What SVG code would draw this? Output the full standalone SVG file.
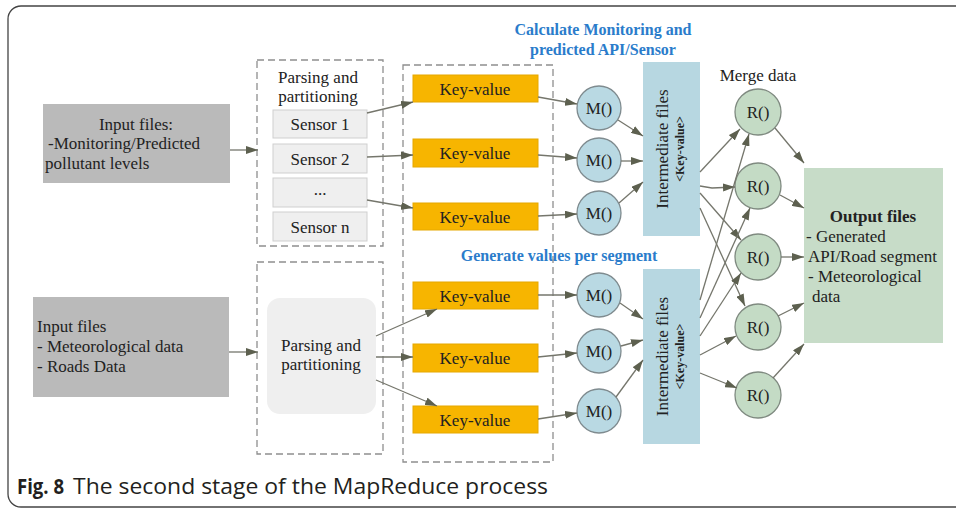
<svg xmlns="http://www.w3.org/2000/svg" width="956" height="508" viewBox="0 0 956 508">
  <style>
    .t { font-family: "Liberation Serif", "Times New Roman", serif; font-size: 17px; fill: #222; }
    .c { text-anchor: middle; }
    .b { font-weight: bold; }
    .blue { font-family: "Liberation Serif", serif; font-size: 16px; font-weight: bold; fill: #2a7ccb; text-anchor: middle; }
    .cap { font-family: "Open Sans", "Liberation Sans", sans-serif; font-size: 22px; fill: #231f20; }
    .dash { fill: none; stroke: #8e8e8e; stroke-width: 1.3; stroke-dasharray: 7 4; }
    .input { fill: #bababa; }
    .sensor { fill: #efefef; stroke: #cfcfcf; stroke-width: 1; }
    .kv { fill: #f7b500; stroke: #e6a800; stroke-width: 1; }
    .mc { fill: #b9d9e3; stroke: #7f8b8f; stroke-width: 1.3; }
    .inter { fill: #b7d7e1; }
    .rc { fill: #c4dbc5; stroke: #7f8a80; stroke-width: 1.3; }
    .out { fill: #c7dcc8; }
    .edge { fill: none; stroke: #75766c; stroke-width: 1.3; marker-end: url(#ah); }
  </style>
  <defs>
    <marker id="ah" markerUnits="userSpaceOnUse" markerWidth="12" markerHeight="8" refX="12" refY="4" orient="auto">
      <path d="M0,0 L12,4 L0,8 z" fill="#5d604f"/>
    </marker>
  </defs>

  <rect width="956" height="508" fill="#ffffff"/>
  <!-- outer frame, open on the right -->
  <path d="M956,6 H21 A13,13 0 0 0 8,19 V494 A13,13 0 0 0 21,507 H956" fill="none" stroke="#444" stroke-width="1.3"/>

  <!-- headings -->
  <text class="blue" x="603" y="35">Calculate Monitoring and</text>
  <text class="blue" x="603" y="55">predicted API/Sensor</text>
  <text class="blue" x="559" y="261">Generate values per segment</text>
  <text class="t c" x="758" y="81">Merge data</text>

  <!-- input 1 -->
  <g id="input1">
    <rect class="input" x="43" y="104" width="187" height="79"/>
    <text class="t c" x="136" y="130">Input files:</text>
    <text class="t" x="48" y="149">-Monitoring/Predicted</text>
    <text class="t" x="45" y="169">pollutant levels</text>
  </g>

  <!-- input 2 -->
  <g id="input2">
    <rect class="input" x="33" y="297" width="196" height="100"/>
    <text class="t" x="37" y="332">Input files</text>
    <text class="t" x="37" y="352">- Meteorological data</text>
    <text class="t" x="37" y="372">- Roads Data</text>
  </g>

  <!-- parsing 1 with sensors -->
  <g id="parse1">
    <rect class="dash" x="257" y="60" width="126" height="186"/>
    <text class="t c" x="318" y="83">Parsing and</text>
    <text class="t c" x="318" y="102">partitioning</text>
  </g>
  <g id="sensor1"><rect class="sensor" x="273" y="110" width="94" height="28"/><text class="t c" x="320" y="130">Sensor 1</text></g>
  <g id="sensor2"><rect class="sensor" x="273" y="144" width="94" height="29"/><text class="t c" x="320" y="164.5">Sensor 2</text></g>
  <g id="sensor3"><rect class="sensor" x="273" y="178" width="94" height="29"/><text class="t c" x="320" y="195">...</text></g>
  <g id="sensorn"><rect class="sensor" x="273" y="212" width="94" height="29"/><text class="t c" x="320" y="232.5">Sensor n</text></g>

  <!-- parsing 2 -->
  <g id="parse2">
    <rect class="dash" x="257" y="262" width="126" height="192"/>
    <rect x="267" y="298" width="109" height="116" rx="13" fill="#efefef"/>
    <text class="t c" x="321" y="351">Parsing and</text>
    <text class="t c" x="321" y="370">partitioning</text>
  </g>

  <!-- key-value group -->
  <rect id="kvgroup" class="dash" x="403" y="65" width="150" height="397"/>
  <g id="kv1"><rect class="kv" x="413" y="75" width="125" height="27"/><text class="t c" x="475" y="94.5">Key-value</text></g>
  <g id="kv2"><rect class="kv" x="413" y="139" width="125" height="28"/><text class="t c" x="475" y="159">Key-value</text></g>
  <g id="kv3"><rect class="kv" x="413" y="203" width="125" height="27"/><text class="t c" x="475" y="222.5">Key-value</text></g>
  <g id="kv4"><rect class="kv" x="413" y="282" width="125" height="27"/><text class="t c" x="475" y="301.5">Key-value</text></g>
  <g id="kv5"><rect class="kv" x="413" y="344" width="125" height="28"/><text class="t c" x="475" y="364">Key-value</text></g>
  <g id="kv6"><rect class="kv" x="413" y="406" width="125" height="27"/><text class="t c" x="475" y="425.5">Key-value</text></g>

  <!-- map nodes -->
  <g id="m1"><circle class="mc" cx="599" cy="108" r="22"/><text class="t c" x="599" y="114">M()</text></g>
  <g id="m2"><circle class="mc" cx="599" cy="160" r="22"/><text class="t c" x="599" y="166">M()</text></g>
  <g id="m3"><circle class="mc" cx="599" cy="213" r="22"/><text class="t c" x="599" y="219">M()</text></g>
  <g id="m4"><circle class="mc" cx="599" cy="295" r="22"/><text class="t c" x="599" y="301">M()</text></g>
  <g id="m5"><circle class="mc" cx="599" cy="351" r="22"/><text class="t c" x="599" y="357">M()</text></g>
  <g id="m6"><circle class="mc" cx="599" cy="411" r="22"/><text class="t c" x="599" y="417">M()</text></g>

  <!-- intermediate files -->
  <g id="inter1">
    <rect class="inter" x="643" y="62" width="57" height="174"/>
    <text class="t c" transform="translate(667.5,149) rotate(-90)">Intermediate files</text>
    <text class="t c b" style="font-size:12px" transform="translate(684,149) rotate(-90)">&lt;Key-value&gt;</text>
  </g>
  <g id="inter2">
    <rect class="inter" x="643" y="269" width="57" height="175"/>
    <text class="t c" transform="translate(667.5,356.5) rotate(-90)">Intermediate files</text>
    <text class="t c b" style="font-size:12px" transform="translate(684,356.5) rotate(-90)">&lt;Key-value&gt;</text>
  </g>

  <!-- reduce nodes -->
  <g id="r1"><circle class="rc" cx="758" cy="112" r="23"/><text class="t c" x="758" y="118">R()</text></g>
  <g id="r2"><circle class="rc" cx="758" cy="186" r="23"/><text class="t c" x="758" y="192">R()</text></g>
  <g id="r3"><circle class="rc" cx="758" cy="257" r="23"/><text class="t c" x="758" y="263">R()</text></g>
  <g id="r4"><circle class="rc" cx="758" cy="327" r="23"/><text class="t c" x="758" y="333">R()</text></g>
  <g id="r5"><circle class="rc" cx="758" cy="395" r="23"/><text class="t c" x="758" y="401">R()</text></g>

  <!-- output -->
  <g id="output">
    <rect class="out" x="804" y="168" width="139" height="175"/>
    <text class="t c b" x="873" y="222">Output files</text>
    <text class="t" x="806" y="242">- Generated</text>
    <text class="t" x="808" y="262">API/Road segment</text>
    <text class="t" x="808" y="282">- Meteorological</text>
    <text class="t" x="812" y="302">data</text>
  </g>

  <!-- connectors -->
  <g id="connectors">
    <path class="edge" d="M230,150 L258,150"/>
    <path class="edge" d="M229,352 L258,352"/>
    <path class="edge" d="M367,113 L413,102"/>
    <path class="edge" d="M367,157 L413,155"/>
    <path class="edge" d="M367,200 L413,208"/>
    <path class="edge" d="M376,336 L437,309"/>
    <path class="edge" d="M376,357 L413,357"/>
    <path class="edge" d="M376,380 L437,406"/>

    <path class="edge" d="M538,97 L577,104"/>
    <path class="edge" d="M538,155 L577,158"/>
    <path class="edge" d="M538,216 L577,214"/>
    <path class="edge" d="M538,295 L577,295"/>
    <path class="edge" d="M538,357 L577,353"/>
    <path class="edge" d="M538,419 L577,413"/>

    <path class="edge" d="M618,120 L643,136"/>
    <path class="edge" d="M621,161 L643,161"/>
    <path class="edge" d="M619,203 L643,182"/>
    <path class="edge" d="M620,303 L643,319"/>
    <path class="edge" d="M621,346 L643,340"/>
    <path class="edge" d="M616,397 L643,360"/>

    <!-- shuffle -->
    <path class="edge" d="M700,172 L740,129"/>
    <path class="edge" d="M700,186 L712,188 L735,187"/>
    <path class="edge" d="M700,193 L741,240"/>
    <path class="edge" d="M700,208 L745,306"/>
    <path class="edge" d="M700,300 L749,134"/>
    <path class="edge" d="M700,318 L750,208"/>
    <path class="edge" d="M700,336 L741,273"/>
    <path class="edge" d="M700,355 L736,336"/>
    <path class="edge" d="M700,373 L737,388"/>

    <path class="edge" d="M775,128 L804,163"/>
    <path class="edge" d="M780,195 L804,208"/>
    <path class="edge" d="M781,257 L804,257"/>
    <path class="edge" d="M778,316 L804,303"/>
    <path class="edge" d="M773,378 L804,344"/>
  </g>

  <!-- caption -->
  <text class="cap" y="494"><tspan x="17" font-weight="bold" textLength="47" lengthAdjust="spacingAndGlyphs">Fig. 8</tspan><tspan x="73" textLength="475" lengthAdjust="spacingAndGlyphs">The second stage of the MapReduce process</tspan></text>
</svg>
